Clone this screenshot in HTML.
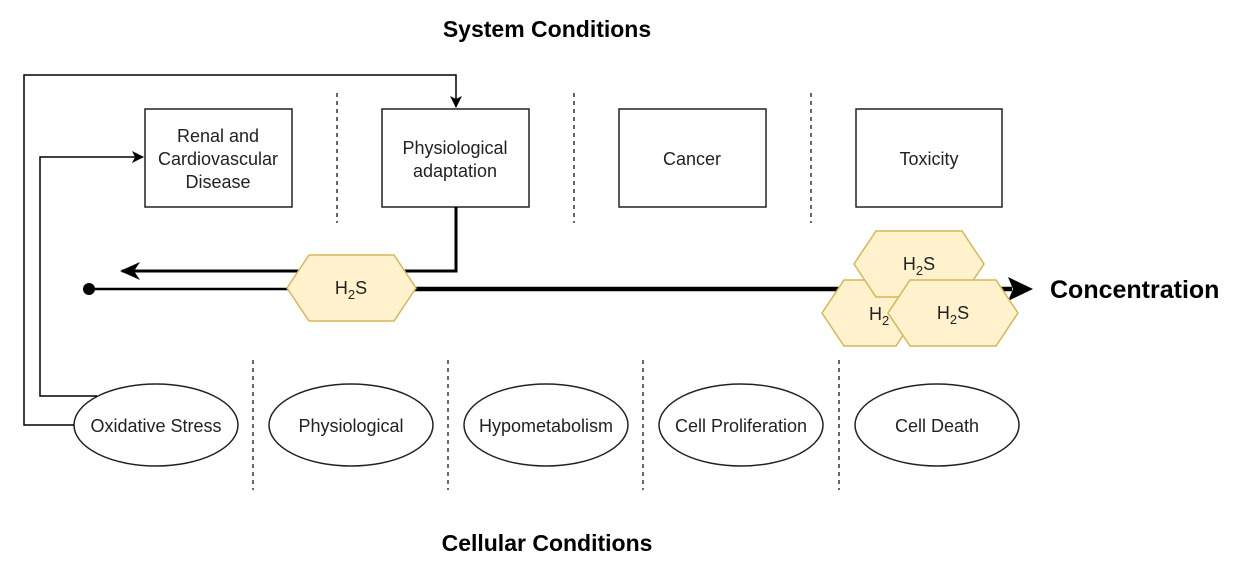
<!DOCTYPE html>
<html><head><meta charset="utf-8"><style>
html,body{margin:0;padding:0;background:#fff;}
svg{display:block;}
text{font-family:"Liberation Sans",Arial,sans-serif;}
</style></head><body>
<svg width="1240" height="568" viewBox="0 0 1240 568" xmlns="http://www.w3.org/2000/svg">
<defs>
<marker id="a" markerWidth="12" markerHeight="12" refX="11" refY="6" orient="auto" markerUnits="userSpaceOnUse"><path d="M0,0 L12,6 L0,12 L3,6 Z" fill="#000"/></marker>
</defs>
<text x="547" y="37" text-anchor="middle" font-size="23" font-weight="bold">System Conditions</text>
<text x="547" y="551" text-anchor="middle" font-size="23" font-weight="bold">Cellular Conditions</text>
<text x="1050" y="298" font-size="25" font-weight="bold">Concentration</text>

<g stroke="#333" stroke-width="1.5" stroke-dasharray="4,4">
<line x1="337" y1="93" x2="337" y2="223"/><line x1="574" y1="93" x2="574" y2="223"/><line x1="811" y1="93" x2="811" y2="223"/>
<line x1="253" y1="360" x2="253" y2="490"/><line x1="448" y1="360" x2="448" y2="490"/><line x1="643" y1="360" x2="643" y2="490"/><line x1="839" y1="360" x2="839" y2="490"/>
</g>

<g fill="#fff" stroke="#222" stroke-width="1.5">
<rect x="145" y="109" width="147" height="98"/><rect x="382" y="109" width="147" height="98"/>
<rect x="619" y="109" width="147" height="98"/><rect x="856" y="109" width="146" height="98"/>
<ellipse cx="156" cy="425" rx="82" ry="41"/><ellipse cx="351" cy="425" rx="82" ry="41"/>
<ellipse cx="546" cy="425" rx="82" ry="41"/><ellipse cx="741" cy="425" rx="82" ry="41"/><ellipse cx="937" cy="425" rx="82" ry="41"/>
</g>

<g fill="none" stroke="#000" stroke-width="1.5">
<polyline points="74,425 24,425 24,75 456,75 456,107" marker-end="url(#a)"/>
<polyline points="97,396 40,396 40,157 143,157" marker-end="url(#a)"/>
</g>
<polyline points="456,207 456,271 122,271" fill="none" stroke="#000" stroke-width="3"/>
<path d="M120,271 L140,262 L134,271 L140,280 Z" fill="#000"/>
<circle cx="89" cy="289" r="6" fill="#000"/>
<line x1="89" y1="289" x2="300" y2="289" stroke="#000" stroke-width="2.5"/>
<line x1="410" y1="289" x2="1012" y2="289" stroke="#000" stroke-width="4.5"/>
<path d="M1033,289 L1008,277 L1013,289 L1008,301 Z" fill="#000"/>

<g fill="#fff2cc" stroke="#d6b656" stroke-width="1.5">
<polygon points="287,288 309,255 394,255 416,288 394,321 309,321"/>
<polygon points="822,313 844,280 896,280 918,313 896,346 844,346"/>
</g>
<text x="869" y="320" font-size="18" fill="#222">H<tspan font-size="13" dy="5">2</tspan></text>
<polygon points="854,264 876,231 962,231 984,264 962,297 876,297" fill="#fff2cc" stroke="#d6b656" stroke-width="1.5"/>
<polygon points="888,313 910,280 996,280 1018,313 996,346 910,346" fill="#fff2cc" stroke="#d6b656" stroke-width="1.5"/>
<g font-size="18" fill="#222" text-anchor="middle">
<text x="351" y="294">H<tspan font-size="13" dy="5">2</tspan><tspan dy="-5">S</tspan></text>
<text x="919" y="270">H<tspan font-size="13" dy="5">2</tspan><tspan dy="-5">S</tspan></text>
<text x="953" y="319">H<tspan font-size="13" dy="5">2</tspan><tspan dy="-5">S</tspan></text>
</g>

<g font-size="18" fill="#222" text-anchor="middle">
<text x="218" y="142">Renal and</text><text x="218" y="165">Cardiovascular</text><text x="218" y="188">Disease</text>
<text x="455" y="154">Physiological</text><text x="455" y="177">adaptation</text>
<text x="692" y="165">Cancer</text><text x="929" y="165">Toxicity</text>
<text x="156" y="432">Oxidative Stress</text><text x="351" y="432">Physiological</text>
<text x="546" y="432">Hypometabolism</text><text x="741" y="432">Cell Proliferation</text><text x="937" y="432">Cell Death</text>
</g>
</svg>
</body></html>
